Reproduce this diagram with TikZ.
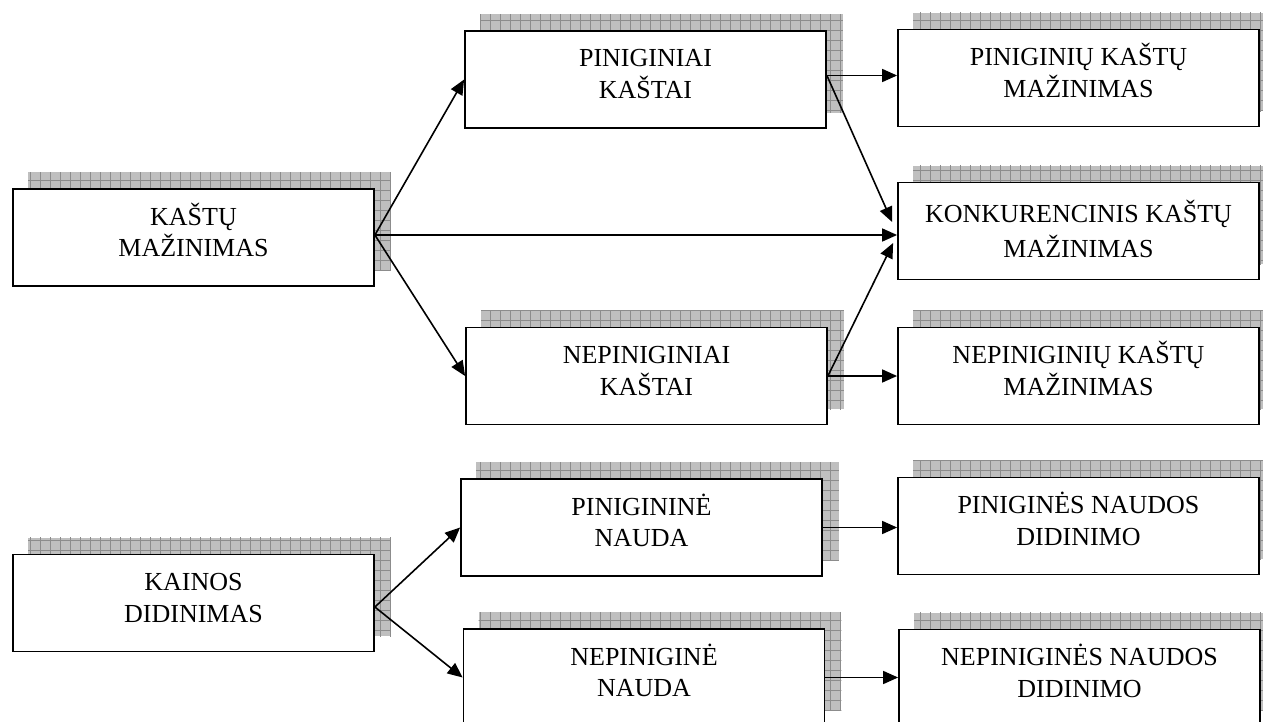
\documentclass[tikz,border=0pt]{standalone}
\usepackage{fontspec}
\setmainfont{Liberation Serif}
\usetikzlibrary{arrows.meta,backgrounds}

% two centred lines, set a little above the middle of the box
\newcommand\boxtext[2]{\rule{0pt}{22pt}#1\\#2\rule[-15.5pt]{0pt}{15.5pt}}

\begin{document}
\begin{tikzpicture}[x=1pt,y=-1pt,
  box/.style={draw, line width=1.8pt, fill=white, minimum width=361pt,
    minimum height=97pt, inner sep=0pt, align=center,
    font=\fontsize{26pt}{31.5pt}\selectfont},
  conn/.style={line width=1.6pt, -{Triangle[length=15pt,width=13pt]}},
  shadowfill/.style={fill=black!25},
  shadowgrid/.style={draw=black!45, line width=0.7pt}]

\useasboundingbox (0,0) rectangle (1263,722);

% cost reduction branch
\node[box] (km)  at (193.5,237.5) {\boxtext{KAŠTŲ}{MAŽINIMAS}};
\node[box] (pk)  at (645.5,79.5)  {\boxtext{PINIGINIAI}{KAŠTAI}};
\node[box] (nk)  at (646.5,376)   {\boxtext{NEPINIGINIAI}{KAŠTAI}};
\node[box] (pkm) at (1078.5,78)   {\boxtext{PINIGINIŲ KAŠTŲ}{MAŽINIMAS}};
\node[box] (kkm) at (1078.5,231)
  {\rule{0pt}{22pt}KONKURENCINIS KAŠTŲ\\[3.5pt]MAŽINIMAS\rule[-5pt]{0pt}{5pt}};
\node[box] (nkm) at (1078.5,376)  {\boxtext{NEPINIGINIŲ KAŠTŲ}{MAŽINIMAS}};

% price increase branch
\node[box] (kd)  at (193.5,603)   {\boxtext{KAINOS}{DIDINIMAS}};
\node[box] (pn)  at (641.5,527.5) {\boxtext{PINIGININĖ}{NAUDA}};
\node[box] (nn)  at (644,677.5)   {\boxtext{NEPINIGINĖ}{NAUDA}};
\node[box] (pnd) at (1078.5,526)  {\boxtext{PINIGINĖS NAUDOS}{DIDINIMO}};
\node[box] (nnd) at (1079.5,678)  {\boxtext{NEPINIGINĖS NAUDOS}{DIDINIMO}};

% hatched drop shadows, offset up and to the right
\begin{scope}[on background layer]
  \fill[white] (0,0) rectangle (1263,722);
  \foreach \n in {km,pk,nk,pkm,kkm,nkm,kd,pn,nn,pnd,nnd}{
    \begin{scope}
      \clip ([shift={(16pt,16pt)}]\n.south west) rectangle ([shift={(16pt,16pt)}]\n.north east);
      \fill[shadowfill] ([shift={(16pt,16pt)}]\n.south west) rectangle ([shift={(16pt,16pt)}]\n.north east);
      \draw[shadowgrid, step=10pt] ([shift={(10pt,10pt)}]\n.south west) grid ([shift={(26pt,26pt)}]\n.north east);
    \end{scope}
  }
\end{scope}

% connectors
\coordinate (kmo) at ([yshift=2.5pt]km.east);
\draw[conn] (kmo) -- (pk.west);
\draw[conn] (kmo) -- (nk.west);
\draw[conn] (kmo) -- (kmo -| kkm.west);

\coordinate (pko) at ([yshift=4pt]pk.east);
\draw[conn] (pko) -- (pko -| pkm.west);
\draw[conn] (pko) -- ([xshift=-5pt,yshift=9pt]kkm.west);

\draw[conn] (nk.east) -- ([xshift=-4pt,yshift=-12pt]kkm.west);
\draw[conn] (nk.east) -- (nk.east -| nkm.west);

\coordinate (kdo) at ([yshift=-4pt]kd.east);
\draw[conn] (kdo) -- (pn.west);
\draw[conn] (kdo) -- (nn.west);
\draw[conn] (pn.east) -- (pn.east -| pnd.west);
\draw[conn] (nn.east) -- (nn.east -| nnd.west);
\end{tikzpicture}
\end{document}
